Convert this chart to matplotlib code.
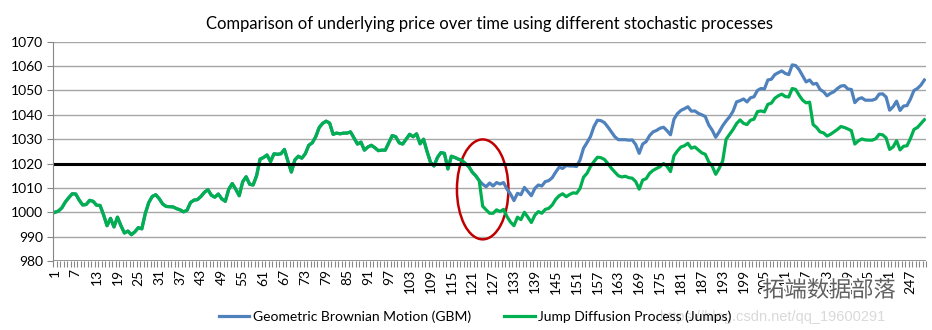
import matplotlib
matplotlib.use('Agg')
import matplotlib.pyplot as plt
import matplotlib.patheffects as pe
from matplotlib.patches import Ellipse
import numpy as np

plt.rcParams['font.family'] = ['Lato', 'Noto Sans CJK SC', 'DejaVu Sans']

# shared path (days 1-123), both processes identical until the jump
shared = [1000, 1000.5, 1001.8, 1004.2, 1006, 1007.6, 1007.5, 1005, 1003, 1003.2,
          1004.9, 1004.5, 1002.9, 1002.8, 999, 994.5, 997.5, 994, 998, 994.5,
          991.5, 992.3, 990.8, 992, 993.7, 993.2, 999.5, 1004, 1006.5, 1007.2,
          1005.6, 1003.4, 1002.4, 1002.3, 1002.2, 1001.5, 1001, 1000.2, 1000.8, 1004,
          1005, 1005.2, 1006.5, 1008.2, 1009.3, 1007, 1006.2, 1007.5, 1005.5, 1004.5,
          1009.5, 1011.8, 1009.5, 1006.8, 1012.5, 1014.6, 1011.5, 1011.2, 1015, 1021.8,
          1022.5, 1023.5, 1020.8, 1024, 1023.8, 1024, 1025.8, 1021, 1016.5, 1021.5,
          1023, 1022.2, 1024, 1027.5, 1028.5, 1031, 1034.8, 1036.5, 1037.4, 1036.6,
          1032, 1032.5, 1032.2, 1032.5, 1032.5, 1033, 1030.5, 1028, 1028.8, 1025.5,
          1026.8, 1027.5, 1026.5, 1025.3, 1025.5, 1025.5, 1028.5, 1031.5, 1031, 1028.5,
          1028, 1030, 1032, 1031, 1032.2, 1028.1, 1030, 1025, 1020.5, 1019,
          1022.5, 1024.5, 1024.2, 1017.8, 1023, 1022.5, 1021.8, 1021.3, 1020, 1018.8,
          1016.5, 1015, 1013]

gbm_rest = [1011.5, 1010.5, 1012, 1010.8, 1012.2, 1011.6, 1012.2, 1009.5, 1007.5, 1004.8,
            1007.8, 1007.2, 1010.2, 1008.5, 1006.8, 1009.8, 1011.2, 1010.8, 1012.6, 1013,
            1014.2, 1016.5, 1018.5, 1018, 1019.2, 1019, 1019, 1018.8, 1021.5, 1026.3,
            1028.6, 1031.1, 1035.2, 1037.8, 1037.6, 1036.8, 1035, 1033, 1031, 1029.8,
            1029.8, 1029.8, 1029.6, 1029.7, 1027.8, 1024.2, 1028, 1029, 1031.5, 1033,
            1033.6, 1034.5, 1034.9, 1033.5, 1031.8, 1038.2, 1040.5,
            1041.8, 1042.5, 1043.3, 1041.5, 1041.6, 1040.6, 1040, 1039.3, 1035.8, 1033.7,
            1030.8, 1033, 1035.5, 1037.5, 1039.2, 1041.5, 1045.3, 1045.8, 1046.5, 1045.3,
            1047, 1047.4, 1050, 1050.8, 1050.6, 1054.3, 1054.6, 1056.5, 1057.3, 1058,
            1057, 1056.5, 1060.5, 1060.2, 1058.5,
            1056, 1053.5, 1054.3, 1052.6, 1052.9, 1050.4, 1049.5, 1047.8, 1048.8, 1049.5,
            1050.8, 1051.8, 1052, 1050.6, 1050.4, 1045, 1046.5, 1047, 1046, 1046,
            1046, 1046.5, 1048.5, 1048.6, 1047.3, 1041.9, 1043.3, 1045.6, 1041.8, 1043.6,
            1043.8, 1046.5, 1050, 1050.8, 1052.2, 1054.3]

jump_rest = [1002.5, 1001, 999.6, 999.6, 1001, 1000.3, 1001.2, 998.2, 996, 994.5,
             998, 997, 1000, 998, 995.8, 998.8, 1000.3, 999.6, 1001.2, 1001.6,
             1003, 1005.3, 1006.8, 1007.6, 1006.4, 1007.3, 1008, 1007.8, 1009.8, 1014.4,
             1016, 1018.8, 1020.8, 1022.6, 1022.4, 1021.7, 1020, 1018.1, 1016.5, 1015,
             1014.5, 1014.8, 1014.2, 1014, 1012.6, 1009.5, 1013.2, 1013.8, 1016, 1017.2,
             1018, 1018.7, 1020, 1018.9, 1016.7, 1023.2, 1025.2,
             1026.8, 1027.3, 1028.3, 1026.3, 1026.8, 1025.6, 1024.4, 1023.8, 1020.7, 1018.9,
             1015.6, 1018, 1021, 1030, 1032, 1034, 1036.4, 1037.9, 1036.5, 1036,
             1037.8, 1038.2, 1041.3, 1041.6, 1041.2, 1044.3, 1044.8, 1046.8, 1047.8, 1048.5,
             1047.5, 1047.3, 1050.8, 1050.4, 1048,
             1046, 1044.9, 1045.2, 1036, 1034.8, 1033, 1032.6, 1031.3, 1032, 1033,
             1034, 1035.2, 1034.8, 1034.2, 1033.5, 1028, 1029.3, 1030.1, 1029.7, 1029.6,
             1029.6, 1030.2, 1032, 1031.8, 1030.5, 1025.8, 1026.8, 1029.4, 1025.6, 1027.1,
             1027.3, 1030.3, 1034, 1034.8, 1036.4, 1038]

gbm = shared + gbm_rest
jumps = shared + jump_rest
days = list(range(1, len(gbm) + 1))
threshold = 1020

fig = plt.figure(figsize=(9.32, 3.30), dpi=100)
ax = fig.add_axes([0.057, 0.209, 0.9367, 0.6646])

ax.plot(days, gbm, color='#4F81BD', lw=2.3, label='Geometric Brownian Motion (GBM)')
ax.plot(days, jumps, color='#00B050', lw=2.3, label='Jump Diffusion Process (Jumps)')
ax.axhline(threshold, color='black', lw=2.2)
ax.add_patch(Ellipse((124, 1009.4), 14.8, 41, fill=False, edgecolor='#C00000', lw=1.8))

ax.set_xlim(0.5, len(days) + 0.5)
ax.set_ylim(980, 1070)
ax.set_yticks(range(980, 1071, 10))
ax.grid(axis='y', color='#A6A6A6', lw=1)
ax.set_axisbelow(True)
for s in ['top', 'right', 'bottom']:
    ax.spines[s].set_visible(False)
ax.spines['left'].set_color('#868686')

ax.set_xticks(days[::6])
ax.set_xticklabels([str(d) for d in days[::6]], rotation=90)
ax.set_xticks(np.arange(0.5, len(days) + 1, 1), minor=True)
ax.tick_params(axis='x', which='major', length=0, pad=6, labelsize=10)
ax.tick_params(axis='x', which='minor', length=4, color='#868686', width=0.8)
ax.tick_params(axis='y', length=4, color='#868686', labelsize=10, pad=3)
ax.axhline(980, color='#868686', lw=1.2, zorder=3)

ax.set_title('Comparison of underlying price over time using different stochastic processes',
             fontsize=12, pad=9)

fig.legend(loc='center', bbox_to_anchor=(0.51, 0.04), ncol=2, frameon=False, fontsize=10,
           handlelength=2.2, handletextpad=0.25, columnspacing=2.4)

# watermark
fig.text(0.708, 0.04, 'https://blog.csdn.net/qq_19600291', color='#D9D9D9', fontsize=10.5,
         family='Liberation Sans', ha='left', va='center')
fig.text(0.818, 0.12, '拓端数据部落', color='#606060', fontsize=16, ha='left', va='center',
         family=['Noto Sans CJK SC'],
         path_effects=[pe.withStroke(linewidth=2.5, foreground='white')])

fig.savefig('out.png', dpi=100)
